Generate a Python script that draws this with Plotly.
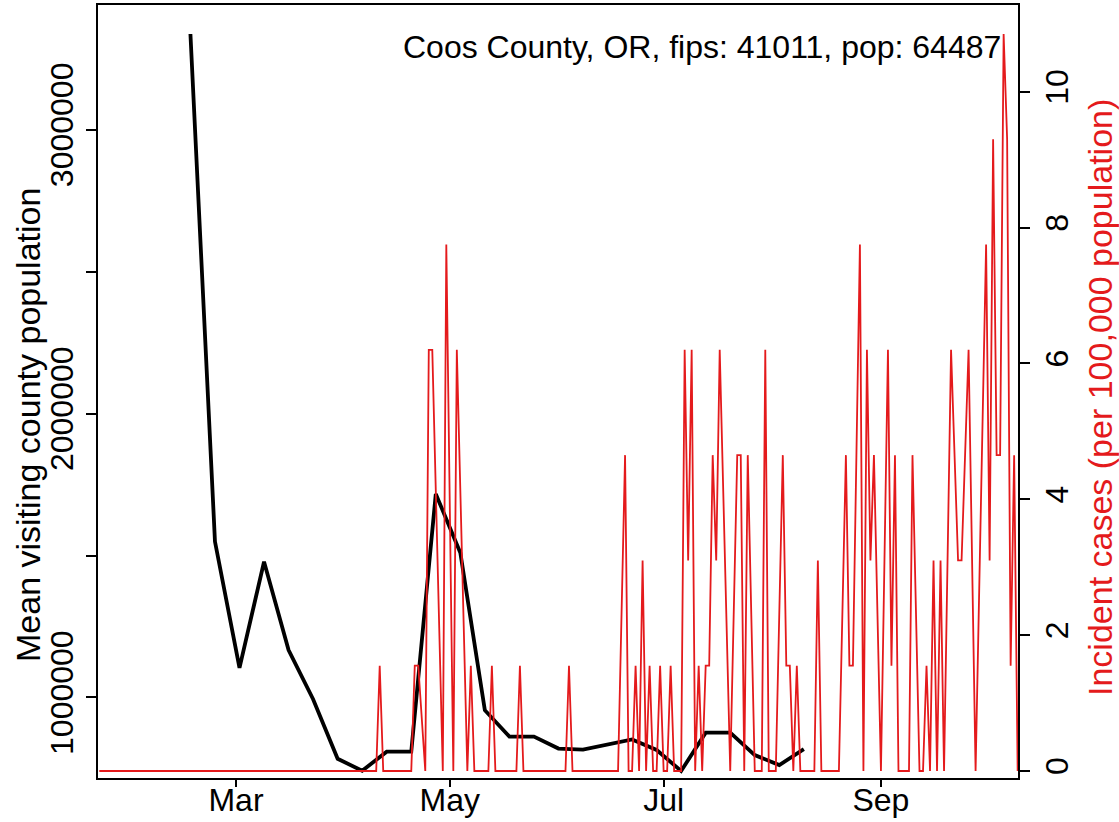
import plotly.graph_objects as go
import pandas as pd

# ---- data ----
start = pd.Timestamp("2020-01-22")

# weekly mean visiting county population (black)
black_day = [26, 33, 40, 47, 54, 61, 68, 75, 82, 89, 96, 103, 110, 117, 124,
             131, 138, 145, 152, 159, 166, 173, 180, 187, 194, 201]
black_val = [3337000, 1549000, 1104000, 1478000, 1167000, 994000, 784000, 742000,
             809000, 809000, 1717000, 1510000, 955000, 862000, 862000, 820000,
             816000, 834000, 852000, 815000, 741000, 876000, 876000, 797000,
             762000, 818000]

# daily incident cases per 100,000 (red)
red_day = [0, 79, 80, 81, 89, 90, 91, 93, 94, 95, 98, 99, 101, 102, 105, 106, 107,
           111, 112, 113, 119, 120, 121, 133, 134, 135,
           148, 150, 151, 152, 153, 154, 155, 156, 157, 158, 159, 160, 161, 162, 163,
           164, 166, 167, 168, 169, 170, 171, 172, 173, 174, 175, 176, 177, 180, 182,
           183, 184, 185, 187, 189, 190, 191, 193, 195, 196, 197, 198, 199, 200, 204,
           205, 206, 211, 213, 214, 215, 217, 218, 219, 220, 221, 223, 225, 226, 227,
           228, 231, 232, 234, 235, 236, 237, 238, 239, 240, 241, 243, 245, 246, 248,
           250, 253, 254, 255, 256, 257, 258, 259, 260, 261, 262]
red_val = [0, 0, 1.55, 0, 0, 1.55, 1.55, 0, 6.20, 6.20, 0, 7.75, 0, 6.20, 0, 1.55, 0,
           0, 1.55, 0, 0, 1.55, 0, 0, 1.55, 0,
           0, 4.65, 0, 0, 1.55, 0, 3.10, 0, 1.55, 0, 0, 1.55, 0, 0, 1.55,
           0, 0, 6.20, 3.10, 6.20, 0, 1.55, 0, 1.55, 1.55, 4.65, 3.10, 6.20, 0, 4.65,
           4.65, 0, 4.65, 0, 0, 6.20, 0, 0, 4.65, 1.55, 1.55, 0, 1.55, 0, 0,
           3.10, 0, 0, 4.65, 1.55, 1.55, 7.75, 0, 6.20, 3.10, 4.65, 0, 6.20, 1.55, 4.65,
           0, 0, 4.65, 0, 0, 1.55, 0, 3.10, 0, 3.10, 0, 6.20, 3.10, 3.10, 6.20,
           0, 7.75, 3.10, 9.30, 4.65, 4.65, 10.85, 9.30, 1.55, 4.65, 0]

month_ticks = ["2020-03-01", "2020-05-01", "2020-07-01", "2020-09-01"]
month_labels = ["Mar", "May", "Jul", "Sep"]
left_ticks = [1000000, 1500000, 2000000, 2500000, 3000000]
left_labels = ["1000000", "", "2000000", "", "3000000"]
right_ticks = [0, 2, 4, 6, 8, 10]
right_labels = ["0", "2", "4", "6", "8", "10"]

title_text = "Coos County, OR, fips: 41011, pop: 64487"

black_x = [start + pd.Timedelta(days=d) for d in black_day]
red_x = [start + pd.Timedelta(days=d) for d in red_day]

RED = "#e41a1c"
FONT = "Liberation Sans, Arial, sans-serif"
FS = 32

# plot box in pixels
L, R, T, B = 98, 1018, 5, 778
W, H = 1119, 822
Y0 = 771          # pixel row of the zero / minimum lines
YTOP = 34         # pixel row of the series maxima

r_lo, r_hi = 0.0, 10.85
r_pp = (Y0 - YTOP) / (r_hi - r_lo)
red_range = [r_lo - (B - Y0) / r_pp, r_hi + (YTOP - T) / r_pp]
b_lo, b_hi = 741000, 3337000
b_pp = (Y0 - YTOP) / (b_hi - b_lo)
black_range = [b_lo - (B - Y0) / b_pp, b_hi + (YTOP - T) / b_pp]

fig = go.Figure()
fig.add_trace(go.Scatter(x=black_x, y=black_val, mode="lines",
                         line=dict(color="black", width=3.8), yaxis="y",
                         hoverinfo="skip"))
fig.add_trace(go.Scatter(x=red_x, y=red_val, mode="lines",
                         line=dict(color=RED, width=1.8), yaxis="y2",
                         hoverinfo="skip"))

x0 = start + pd.Timedelta(days=-0.37)
x1 = start + pd.Timedelta(days=262.1)

fig.update_layout(
    width=W, height=H,
    margin=dict(l=L, r=W - R, t=T, b=H - B, autoexpand=False),
    plot_bgcolor="white", paper_bgcolor="white",
    showlegend=False,
    font=dict(family=FONT, size=FS, color="black"),
    xaxis=dict(type="date", range=[x0, x1], tickvals=month_ticks, ticktext=month_labels,
               ticks="outside", ticklen=7, tickwidth=1.5, tickcolor="black",
               ticklabelstandoff=-14,
               showline=True, mirror=True, linecolor="black", linewidth=1.5,
               showgrid=False, zeroline=False, tickfont=dict(size=FS), automargin=False),
    yaxis=dict(range=black_range, tickvals=left_ticks, ticktext=left_labels,
               tickangle=-90, ticks="outside", ticklen=10, tickwidth=1.5,
               tickcolor="black", showline=True, linecolor="black", linewidth=1.5,
               showgrid=False, zeroline=False, tickfont=dict(size=FS), automargin=False),
    yaxis2=dict(range=red_range, overlaying="y", side="right",
                tickvals=right_ticks, ticktext=right_labels, tickangle=-90,
                ticks="outside", ticklen=10, tickwidth=1.5, tickcolor="black",
                showline=True, linecolor="black", linewidth=1.5,
                showgrid=False, zeroline=False, tickfont=dict(size=FS), automargin=False),
)

fig.add_annotation(text=title_text, xref="paper", yref="paper",
                   x=(1003 - L) / (R - L), y=(B - 47) / (B - T),
                   xanchor="right", yanchor="middle", showarrow=False,
                   font=dict(size=FS, color="black", family=FONT))
fig.add_annotation(text="Mean visiting county population", xref="paper", yref="paper",
                   x=(28 - L) / (R - L), y=(B - 425) / (B - T), textangle=-90,
                   xanchor="center", yanchor="middle", showarrow=False,
                   font=dict(size=34, color="black", family=FONT))
fig.add_annotation(text="Incident cases (per 100,000 population)", xref="paper", yref="paper",
                   x=(1100 - L) / (R - L), y=(B - 398) / (B - T), textangle=-90,
                   xanchor="center", yanchor="middle", showarrow=False,
                   font=dict(size=34, color=RED, family=FONT))

fig.write_html("out.html", post_script="document.body.style.margin='0';",
               config={"displayModeBar": False})
